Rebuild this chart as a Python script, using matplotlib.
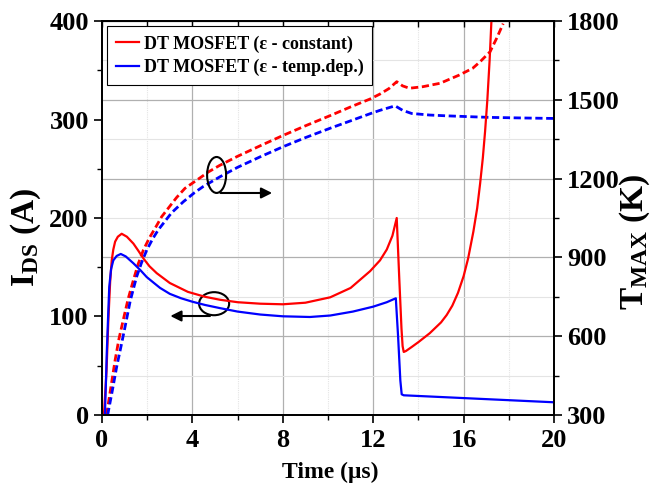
import numpy as np
from matplotlib import pyplot as plt
from matplotlib.patches import Ellipse

plt.rcParams['font.family'] = ['Liberation Serif', 'DejaVu Serif']
plt.rcParams['font.weight'] = 'bold'
plt.rcParams['mathtext.fontset'] = 'custom'
plt.rcParams['mathtext.rm'] = 'Liberation Serif:bold'
plt.rcParams['mathtext.it'] = 'Liberation Serif:bold'

# drain current, eps constant (red solid)
t_ids_const = [0.09, 0.2, 0.28, 0.36, 0.43, 0.5, 0.58, 0.7, 0.87, 1.1, 1.39, 1.6, 1.83,
               2.1, 2.42, 3.0, 3.8, 4.56, 5.22, 6.0, 7.0, 8.0, 9.0, 10.1, 11.0, 11.86,
               12.3, 12.6, 12.85, 13.04, 13.15, 13.25, 13.3, 13.35, 13.45, 13.7,
               14.0, 14.5, 15.0, 15.25, 15.5, 15.75, 16.0, 16.2, 16.43, 16.6, 16.73,
               16.85, 16.95, 17.05, 17.15, 17.25]
ids_const = [2, 45, 96, 135, 157, 168, 176, 181, 184, 181, 174, 167, 159,
             151, 144, 134, 125, 120, 117, 114.5, 113, 112.4, 114, 119.5, 129, 146,
             157, 168, 182, 200, 140, 88, 70, 64, 65, 69,
             74, 83, 94, 101.5, 111, 124, 141, 159, 186, 210, 235,
             261, 288, 320, 360, 410]

# drain current, eps temp. dependent (blue solid)
t_ids_temp = [0.13, 0.17, 0.21, 0.27, 0.32, 0.4, 0.5, 0.65, 0.83, 1.05, 1.39, 1.7, 1.98,
              2.3, 2.57, 3.0, 3.5, 4.0, 4.56, 5.22, 6.0, 7.0, 8.0, 9.2, 10.1, 11.1, 12.0,
              12.6, 13.0, 13.1, 13.2, 13.26, 13.35, 20.0]
ids_temp = [2, 30, 63, 100, 130, 148, 157, 161.5, 163.5, 161, 154, 147, 140,
            134, 129, 123, 118.5, 115, 111.7, 108.5, 105, 102, 100.2, 99.5, 101, 105, 110,
            114.5, 118.5, 80, 35, 21, 20, 12.9]

# max temperature, eps constant (red dashed)
t_tmax_const = [0.2, 0.4, 0.58, 0.75, 0.94, 1.15, 1.39, 1.6, 1.83, 2.1, 2.35, 2.64,
                3.3, 3.67, 4.34, 4.7, 5.2, 6.0, 7.0, 8.0, 9.0, 10.1, 11.0, 11.86,
                12.3, 12.7, 13.04, 13.3, 13.6, 14.2, 14.96, 15.8, 16.4, 16.73,
                17.17, 17.46, 17.75]
tmax_const = [300, 410, 509, 590, 662, 740, 814, 875, 928, 975, 1011, 1055,
              1128, 1163, 1203, 1225, 1250, 1285, 1325, 1364, 1401, 1440, 1473, 1503,
              1522, 1543, 1569, 1553, 1544, 1550, 1563, 1594, 1620, 1645,
              1683, 1734, 1790]

# max temperature, eps temp. dependent (blue dashed)
t_tmax_temp = [0.25, 0.45, 0.65, 0.85, 1.02, 1.25, 1.53, 1.75, 1.98, 2.25, 2.49,
               3.08, 3.6, 4.1, 4.48, 5.22, 6.0, 7.0, 8.0, 9.0, 10.1, 11.0, 11.86,
               12.3, 12.97, 13.3, 13.7, 14.5, 15.25, 16.5, 17.2, 18.5, 20.0]
tmax_temp = [300, 390, 484, 565, 636, 735, 826, 880, 928, 972, 1005,
             1070, 1112, 1147, 1170, 1207, 1243, 1283, 1321, 1356, 1392, 1420, 1447,
             1460, 1477, 1460, 1448, 1442, 1439, 1435, 1433, 1431, 1429]

label_const = "DT MOSFET (\u03b5 - constant)"
label_temp = "DT MOSFET (\u03b5 - temp.dep.)"

x_major = np.arange(0, 21, 4)
x_minor = np.arange(2, 20, 4)
y_left_major = np.arange(0, 401, 100)
y_right_major = np.arange(300, 1801, 300)

fig = plt.figure(figsize=[6.59, 4.91], dpi=100)
ax = fig.add_axes([0.1548, 0.1548, 0.6859, 0.8024])
ax2 = ax.twinx()
# left axis on top so solid curves sit above everything
ax.set_zorder(ax2.get_zorder() + 1)
ax.patch.set_visible(False)
ax2.patch.set_visible(True)
ax2.patch.set_facecolor('white')

# grid: horizontal from the right axis, vertical drawn on the back axes
ax2.grid(which='major', axis='y', color='#b0b0b0', lw=0.9)
ax2.grid(which='minor', axis='y', color='#e4e4e4', lw=0.8)
for xv in x_major[1:-1]:
    ax2.axvline(xv, color='#b0b0b0', lw=0.9, zorder=0.5)
for xv in x_minor:
    ax2.axvline(xv, color='#e4e4e4', lw=0.8, ls=(0, (1, 1)), zorder=0.5)

ax2.plot(t_tmax_const, tmax_const, color='red', lw=2.0, dashes=(2.6, 1.3))
ax2.plot(t_tmax_temp, tmax_temp, color='blue', lw=2.0, dashes=(2.6, 1.3))
ax.plot(t_ids_const, ids_const, color='red', lw=1.6, label=label_const)
ax.plot(t_ids_temp, ids_temp, color='blue', lw=1.6, label=label_temp)

ax.set_xlim(0, 20)
ax.set_ylim(0, 400)
ax2.set_ylim(300, 1800)
ax.set_xticks(x_major)
ax.set_xticks(np.arange(0, 21, 2), minor=True)
ax.set_yticks(y_left_major)
ax.set_yticks(np.arange(0, 401, 50), minor=True)
ax2.set_yticks(y_right_major)
ax2.set_yticks(np.arange(300, 1801, 150), minor=True)

for a in (ax, ax2):
    a.tick_params(which='major', direction='out', length=6, width=1.2, labelsize=19)
    a.tick_params(which='minor', direction='out', length=3.5, width=1.0)
    for sp in a.spines.values():
        sp.set_linewidth(1.3)
ax.tick_params(axis='x', pad=4)

top = ax.secondary_xaxis('top')
top.set_xticks(np.arange(0, 21, 2))
top.tick_params(direction='in', length=4, width=1.0, labeltop=False)

ax.set_xlabel("Time (\u03bcs)", fontsize=17, fontweight='bold')
ax.set_ylabel(r"$\mathrm{I_{DS}}$ (A)", fontsize=24, fontweight='bold')
ax2.set_ylabel(r"$\mathrm{T_{MAX}}$ (K)", fontsize=24, fontweight='bold', rotation=90)
ax.xaxis.set_label_coords(0.504, -0.12)
ax.yaxis.set_label_coords(-0.13, 0.45)
ax2.yaxis.set_label_coords(1.14, 0.44)

leg = ax.legend(loc='upper left', fontsize=13, frameon=True, fancybox=False,
                handlelength=1.25, handletextpad=0.25, borderaxespad=0.3,
                borderpad=0.5, labelspacing=0.35)
leg.get_frame().set_edgecolor('black')
leg.get_frame().set_linewidth(0.8)
leg.get_frame().set_alpha(1)

# annotations: ellipses with arrows pointing to the matching axis
ax.add_patch(Ellipse((5.07, 243.7), 0.84, 36.5, fill=False, ec='black', lw=1.5))
ax.annotate('', xy=(7.65, 225.4), xytext=(5.12, 225.4),
            arrowprops=dict(arrowstyle='-|>', color='black', lw=1.5, mutation_scale=16))
ax.add_patch(Ellipse((4.96, 113), 1.33, 23.4, fill=False, ec='black', lw=1.5))
ax.annotate('', xy=(2.9, 100.5), xytext=(4.9, 100.5),
            arrowprops=dict(arrowstyle='-|>', color='black', lw=1.5, mutation_scale=16))

fig.savefig('out.png', dpi=100)
